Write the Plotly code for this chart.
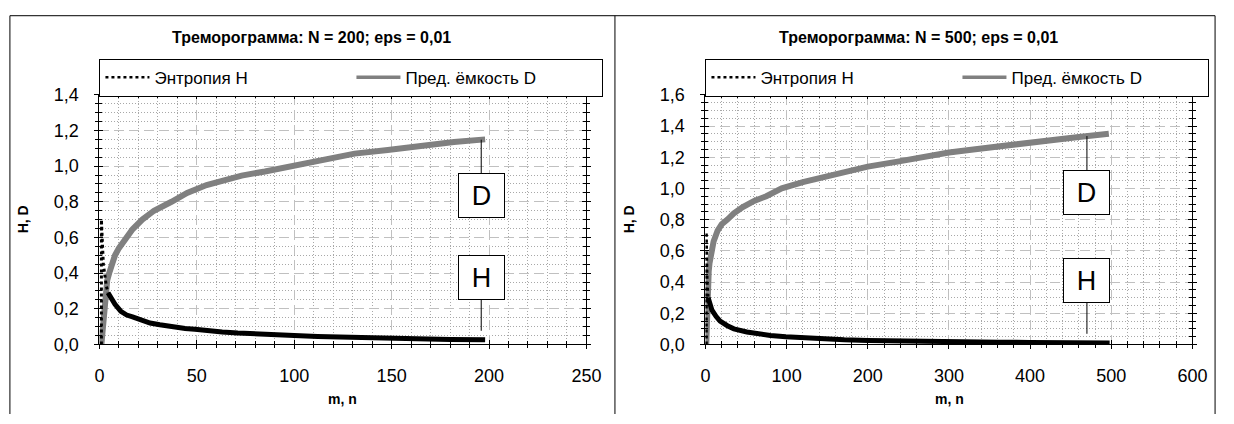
import numpy as np
import plotly.graph_objects as go

# ---------------- data ----------------
titles = ["Треморограмма: N = 200; eps = 0,01", "Треморограмма: N = 500; eps = 0,01"]
legend_names = ["Энтропия H", "Пред. ёмкость D"]
x_title = "m, n"
y_title = "H, D"

# N = 200
m200_D = [1, 2, 3, 4, 5, 6, 8, 10, 13, 17, 22, 28, 37, 45, 55, 64, 73, 85, 100, 115, 131, 148, 165, 182, 198]
D200 = [0.0, 0.15, 0.29, 0.36, 0.40, 0.44, 0.50, 0.54, 0.59, 0.646, 0.70, 0.75, 0.80, 0.85, 0.894, 0.92, 0.947,
        0.97, 1.0, 1.035, 1.07, 1.09, 1.115, 1.135, 1.15]
m200_Hs = [1, 1, 2, 3.5, 4.4]
H200_s = [0.0, 0.70, 0.45, 0.33, 0.29]
m200_H = [4.4, 6, 8, 11, 14, 17, 22, 26, 31, 38, 44, 49, 56, 63, 71, 80, 90, 100, 112, 125, 138, 151, 165, 180, 198]
H200 = [0.29, 0.26, 0.225, 0.185, 0.165, 0.155, 0.135, 0.12, 0.11, 0.097, 0.09, 0.085, 0.076, 0.07, 0.064, 0.058,
        0.053, 0.05, 0.045, 0.041, 0.038, 0.034, 0.031, 0.028, 0.026]

# N = 500
m500_D = [1, 2, 3, 4, 5, 7, 10, 15, 20, 27, 35, 46, 60, 75, 94, 120, 145, 166, 200, 235, 266, 300, 330, 362, 400,
          430, 460, 497]
D500 = [0.0, 0.25, 0.40, 0.47, 0.52, 0.60, 0.66, 0.73, 0.77, 0.80, 0.84, 0.88, 0.92, 0.95, 1.0, 1.04, 1.07, 1.095,
        1.14, 1.17, 1.2, 1.23, 1.25, 1.27, 1.30, 1.32, 1.33, 1.35]
m500_Hs = [1, 1, 2, 3.3]
H500_s = [0.0, 0.72, 0.40, 0.30]
m500_H = [3.3, 5, 8, 13, 18, 27, 35, 51, 65, 80, 99, 120, 145, 171, 200, 235, 266, 300, 340, 362, 400, 450, 498]
H500 = [0.30, 0.26, 0.22, 0.18, 0.15, 0.12, 0.10, 0.08, 0.068, 0.058, 0.05, 0.043, 0.036, 0.03, 0.026, 0.022, 0.02,
        0.018, 0.015, 0.014, 0.013, 0.011, 0.01]

label_m = [196, 470]          # where the D / H leader lines touch the curves

W, H = 1234, 424
FONT = "Liberation Sans, Arial, sans-serif"
BLACK = "#000000"
GRAY = "#808080"
TICK_SIZE = 18


def fx(p):
    return p / W


def fy(p):
    return 1 - p / H


fig = go.Figure()

panels = [
    dict(xa="x", ya="y", xo="x3", yo="y3", leg="legend", mD=m200_D, D=D200, mHs=m200_Hs, Hs=H200_s, mH=m200_H, Hv=H200),
    dict(xa="x2", ya="y2", xo="x4", yo="y4", leg="legend2", mD=m500_D, D=D500, mHs=m500_Hs, Hs=H500_s, mH=m500_H, Hv=H500),
]

for p in panels:
    fig.add_trace(go.Scatter(x=p["mD"], y=p["D"], mode="lines", line=dict(color=GRAY, width=6),
                             xaxis=p["xa"], yaxis=p["ya"], showlegend=False, hoverinfo="skip"))
    fig.add_trace(go.Scatter(x=p["mHs"], y=p["Hs"], mode="lines", line=dict(color=BLACK, width=3, dash="dot"),
                             xaxis=p["xa"], yaxis=p["ya"], showlegend=False, hoverinfo="skip"))
    fig.add_trace(go.Scatter(x=p["mH"], y=p["Hv"], mode="lines", line=dict(color=BLACK, width=5),
                             xaxis=p["xa"], yaxis=p["ya"], showlegend=False, hoverinfo="skip"))
    # legend samples
    fig.add_trace(go.Scatter(x=[None], y=[None], mode="lines", name=legend_names[0],
                             line=dict(color=BLACK, width=2.5, dash="dot"),
                             xaxis=p["xa"], yaxis=p["ya"], legend=p["leg"]))
    fig.add_trace(go.Scatter(x=[None], y=[None], mode="lines", name=legend_names[1],
                             line=dict(color=GRAY, width=3.5),
                             xaxis=p["xa"], yaxis=p["ya"], legend=p["leg"]))
    # overlay subplot for inward ticks (cross ticks)
    fig.add_trace(go.Scatter(x=[None], y=[None], xaxis=p["xo"], yaxis=p["yo"], showlegend=False, hoverinfo="skip"))


def axis_common(rng, dtick, mdtick, fmt, dom=None):
    d = dict(range=rng, dtick=dtick, tick0=0, tickformat=fmt, showline=True, linecolor=BLACK, linewidth=1,
             mirror="allticks", ticks="outside", ticklen=4, tickcolor=BLACK, tickwidth=1,
             showgrid=True, gridcolor="#c0c0c0", griddash="10px,5px", gridwidth=1, zeroline=False,
             tickfont=dict(family=FONT, size=TICK_SIZE, color=BLACK),
             minor=dict(dtick=mdtick, ticks="outside", ticklen=3, tickcolor=BLACK, showgrid=True,
                        gridcolor="#a8a8a8", griddash="1px,2px", gridwidth=1),
             fixedrange=True)
    if dom is not None:
        d["domain"] = dom
    return d


def axis_overlay(rng, dtick, mdtick, over, anchor):
    return dict(range=rng, dtick=dtick, tick0=0, overlaying=over, anchor=anchor, showline=False,
                showticklabels=False, showgrid=False, zeroline=False, mirror="allticks",
                ticks="inside", ticklen=4, tickcolor=BLACK, tickwidth=1,
                minor=dict(dtick=mdtick, ticks="inside", ticklen=3, tickcolor=BLACK, showgrid=False),
                fixedrange=True)


ydom = [fy(351), fy(89)]
xd1 = [fx(96), fx(591)]
xd2 = [fx(712), fx(1207)]

legend_common = dict(yanchor="top", xanchor="left", orientation="h", bgcolor="white",
                     bordercolor=BLACK, borderwidth=1, font=dict(family=FONT, size=17, color=BLACK),
                     entrywidth=192, entrywidthmode="pixels", itemwidth=44)

fig.update_layout(
    width=W, height=H, margin=dict(l=0, r=0, t=0, b=0),
    paper_bgcolor="white", plot_bgcolor="white", separators=", ",
    font=dict(family=FONT, size=16, color=BLACK),
    xaxis=dict(axis_common([0, 250], 50, 10, "d", xd1), anchor="y", ticklabelstandoff=11),
    yaxis=dict(axis_common([0, 1.4], 0.2, 0.05, ".1f", ydom), anchor="x", ticklabelstandoff=12),
    xaxis2=dict(axis_common([0, 600], 100, 20, "d", xd2), anchor="y2", ticklabelstandoff=11),
    yaxis2=dict(axis_common([0, 1.6], 0.2, 0.05, ".1f", ydom), anchor="x2", ticklabelstandoff=12),
    xaxis3=axis_overlay([0, 250], 50, 10, "x", "y3"),
    yaxis3=axis_overlay([0, 1.4], 0.2, 0.05, "y", "x3"),
    xaxis4=axis_overlay([0, 600], 100, 20, "x2", "y4"),
    yaxis4=axis_overlay([0, 1.6], 0.2, 0.05, "y2", "x4"),
    legend=dict(legend_common, x=fx(96), y=fy(51)),
    legend2=dict(legend_common, x=fx(712), y=fy(51)),
)

annotations = []
title_x = [312, 929]
xt_x = [343, 960]
yt_x = [18, 634]
for i in range(2):
    annotations.append(dict(text="<b>%s</b>" % titles[i], x=fx(title_x[i]), y=fy(29), xref="paper", yref="paper",
                            xanchor="center", yanchor="middle", showarrow=False,
                            font=dict(family=FONT, size=16, color=BLACK)))
    annotations.append(dict(text="<b>%s</b>" % x_title, x=fx(xt_x[i]), y=fy(408), xref="paper", yref="paper",
                            xanchor="center", yanchor="middle", showarrow=False,
                            font=dict(family=FONT, size=14, color=BLACK)))
    annotations.append(dict(text="<b>%s</b>" % y_title, x=fx(yt_x[i]), y=fy(220), xref="paper", yref="paper",
                            xanchor="center", yanchor="middle", showarrow=False, textangle=-90,
                            font=dict(family=FONT, size=14, color=BLACK)))

for i, p in enumerate(panels):
    mD = label_m[i]
    yD = float(np.interp(mD, p["mD"], p["D"]))
    yH = float(np.interp(mD, p["mH"], p["Hv"]))
    box = dict(showarrow=True, arrowhead=0, arrowwidth=1, arrowcolor=BLACK, bgcolor="white", bordercolor=BLACK,
               borderwidth=1, width=43, height=41, font=dict(family=FONT, size=27, color=BLACK), ax=0)
    annotations.append(dict(box, text="D", x=mD, y=yD, xref=p["xa"], yref=p["ya"], ay=56, standoff=0))
    annotations.append(dict(box, text="H", x=mD, y=yH, xref=p["xa"], yref=p["ya"], ay=-62, standoff=9))

fig.update_layout(annotations=annotations)

# panel frames
shapes = [
    dict(type="line", xref="paper", yref="paper", x0=fx(5), x1=fx(5), y0=0, y1=fy(6), line=dict(color=BLACK, width=1)),
    dict(type="line", xref="paper", yref="paper", x0=fx(5), x1=fx(1230), y0=fy(6), y1=fy(6), line=dict(color=BLACK, width=1)),
    dict(type="line", xref="paper", yref="paper", x0=fx(620), x1=fx(620), y0=0, y1=fy(6), line=dict(color=BLACK, width=1)),
    dict(type="line", xref="paper", yref="paper", x0=fx(1230), x1=fx(1230), y0=0, y1=fy(6), line=dict(color=BLACK, width=1)),
]
fig.update_layout(shapes=shapes)

post = ("document.documentElement.style.margin='0';document.documentElement.style.padding='0';"
        "document.documentElement.style.overflow='hidden';"
        "document.body.style.margin='0';document.body.style.padding='0';document.body.style.overflow='hidden';"
        "var d=document.getElementById('{plot_id}');d.style.position='fixed';d.style.left='0px';d.style.top='0px';")

fig.write_html("out.html", config={"displayModeBar": False}, post_script=post)
